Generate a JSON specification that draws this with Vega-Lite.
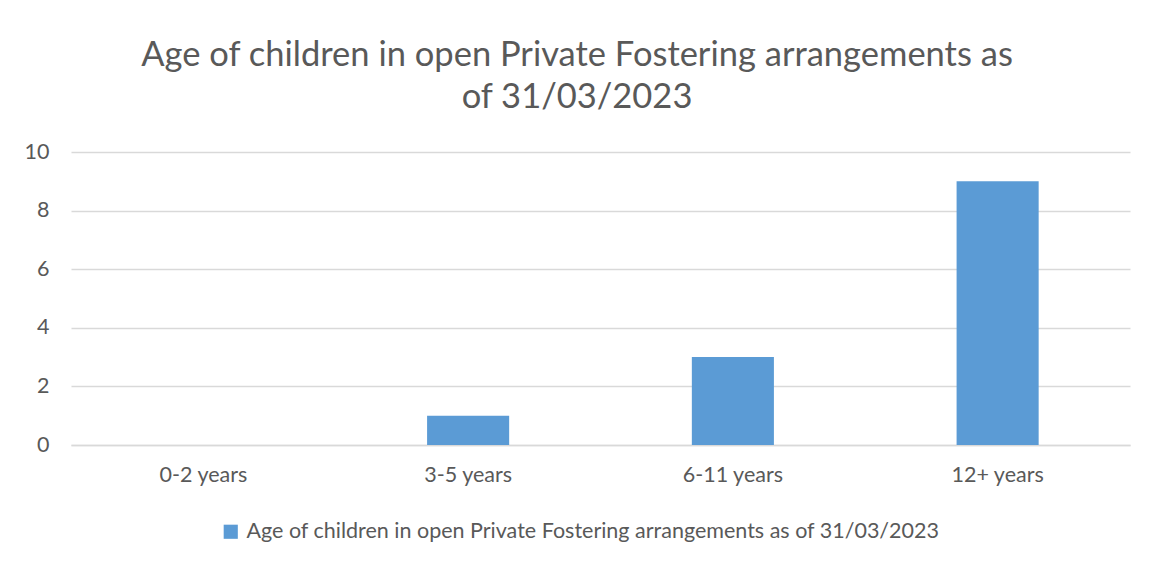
{
  "$schema": "https://vega.github.io/schema/vega-lite/v6.json",
  "autosize": {"type": "none"},
  "padding": {"left": 71, "top": 152, "right": 19, "bottom": 118},
  "width": 1059,
  "height": 293,
  "background": "white",
  "config": {
    "font": "Lato",
    "view": {"stroke": null}
  },
  "title": {
    "text": ["Age of children in open Private Fostering arrangements as", "of 31/03/2023"],
    "fontSize": 34.5,
    "font": "Lato",
    "fontWeight": "normal",
    "color": "#595959",
    "lineHeight": 42,
    "anchor": "middle",
    "frame": "bounds",
    "offset": 26
  },
  "data": {
    "values": [
      {"age": "0-2 years", "count": 0, "series": "Age of children in open Private Fostering arrangements as of 31/03/2023"},
      {"age": "3-5 years", "count": 1, "series": "Age of children in open Private Fostering arrangements as of 31/03/2023"},
      {"age": "6-11 years", "count": 3, "series": "Age of children in open Private Fostering arrangements as of 31/03/2023"},
      {"age": "12+ years", "count": 9, "series": "Age of children in open Private Fostering arrangements as of 31/03/2023"}
    ]
  },
  "mark": {"type": "bar"},
  "encoding": {
    "x": {
      "field": "age",
      "type": "nominal",
      "sort": null,
      "title": null,
      "scale": {"paddingInner": 0.69, "paddingOuter": 0.345},
      "axis": {
        "labelAngle": 0,
        "labelFontSize": 21.5,
        "labelColor": "#595959",
        "labelPadding": 19,
        "ticks": false,
        "domainColor": "#d9d9d9",
        "domainWidth": 1.5,
        "grid": false
      }
    },
    "y": {
      "field": "count",
      "type": "quantitative",
      "title": null,
      "scale": {"domain": [0, 10]},
      "axis": {
        "values": [0, 2, 4, 6, 8, 10],
        "labelFontSize": 21.5,
        "labelColor": "#595959",
        "labelPadding": 22,
        "ticks": false,
        "domain": false,
        "gridColor": "#d9d9d9",
        "gridWidth": 1.5
      }
    },
    "color": {
      "field": "series",
      "type": "nominal",
      "scale": {"range": ["#5b9bd5"]},
      "legend": {
        "title": null,
        "orient": "none",
        "legendX": 149,
        "legendY": 369,
        "symbolType": "square",
        "symbolSize": 200,
        "symbolOpacity": 1,
        "labelFontSize": 21.5,
        "labelColor": "#595959",
        "labelLimit": 1000,
        "labelOffset": 5
      }
    }
  }
}
